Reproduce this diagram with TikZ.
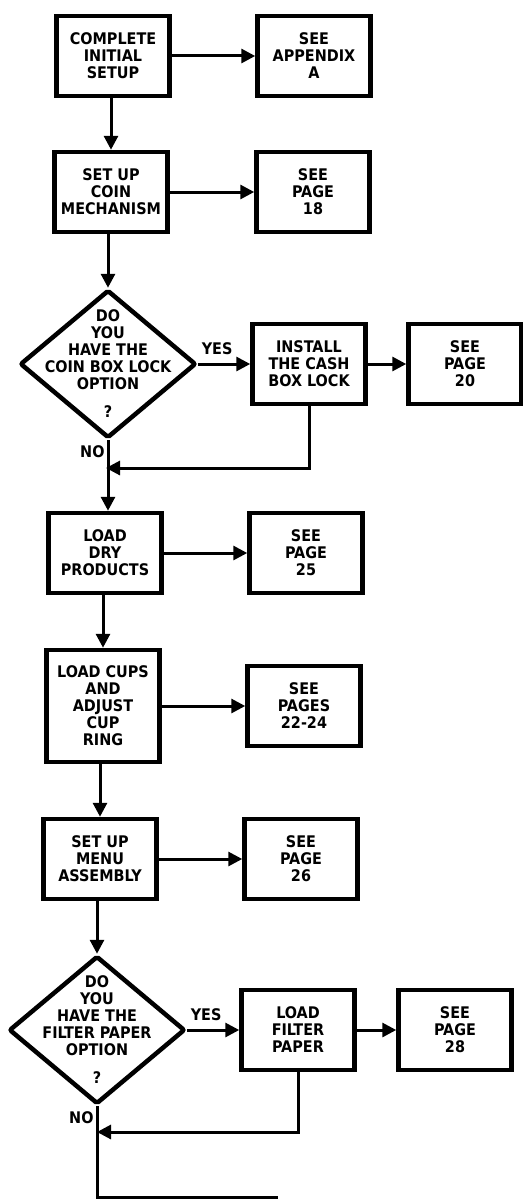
\documentclass[tikz,border=0pt]{standalone}
\usepackage{fontspec}
\setmainfont{DejaVu Sans Condensed}
\usetikzlibrary{shapes.geometric,arrows.meta}

\tikzset{
  every node/.style={font=\fontsize{16}{17}\selectfont\bfseries},
  stepbox/.style={draw, line width=4.5pt, minimum width=113pt, minimum height=80pt,
    align=center, inner sep=2pt},
  decision/.style={draw, diamond, line width=4.5pt, minimum width=176pt,
    minimum height=148pt, inner sep=0pt, rounded corners=2pt},
  qtext/.style={align=center, inner sep=0pt},
  flow/.style={line width=3pt, -{Triangle[length=14pt,width=14pt]}},
  tieline/.style={line width=3pt},
  lbl/.style={inner sep=2pt}
}

\begin{document}
\begin{tikzpicture}[x=1pt,y=-1pt]
\useasboundingbox (0,0) rectangle (522,1199);
% main column and references
\node[stepbox] (init) at (113,56) {COMPLETE\\INITIAL\\SETUP};
\node[stepbox] (appA) at (314,56) {SEE\\APPENDIX\\A};
\node[stepbox] (coin) at (111,192) {SET UP\\COIN\\MECHANISM};
\node[stepbox] (p18) at (313,192) {SEE\\PAGE\\18};
\node[decision] (lockq) at (108,364) {};
\node[qtext] (lockqt) at (lockq) {DO\\YOU\\HAVE THE\\COIN BOX LOCK\\OPTION\\[11pt]?};
\node[stepbox] (lock) at (309,364) {INSTALL\\THE CASH\\BOX LOCK};
\node[stepbox] (p20) at (465,364) {SEE\\PAGE\\20};
\coordinate (merge1) at (106,468);
\node[stepbox] (dry) at (105,553) {LOAD\\DRY\\PRODUCTS};
\node[stepbox] (p25) at (306,553) {SEE\\PAGE\\25};
\node[stepbox, minimum height=112pt] (cups) at (103,706) {LOAD CUPS\\AND\\ADJUST\\CUP\\RING};
\node[stepbox] (p2224) at (304,706) {SEE\\PAGES\\22-24};
\node[stepbox] (menu) at (100,859) {SET UP\\MENU\\ASSEMBLY};
\node[stepbox] (p26) at (301,859) {SEE\\PAGE\\26};
\node[decision] (filterq) at (97,1030) {};
\node[qtext] (filterqt) at (filterq) {DO\\YOU\\HAVE THE\\FILTER PAPER\\OPTION\\[11pt]?};
\node[stepbox] (filter) at (298,1030) {LOAD\\FILTER\\PAPER};
\node[stepbox] (p28) at (455,1030) {SEE\\PAGE\\28};
\coordinate (merge2) at (97,1132);
\coordinate (bottom) at (97,1197);
\coordinate (exit) at (278,1197);

% connectors
\draw[flow] (init) -- (appA);
\draw[flow] (init.south -| coin.north) -- (coin.north);
\draw[flow] (coin) -- (p18);
\draw[flow] (coin.south -| lockq.north) -- (lockq.north);
\draw[flow] (lockq) -- (lock) node[lbl, pos=0, anchor=south west, yshift=6pt] {YES};
\draw[flow] (lock) -- (p20);
\draw[flow] (lockq.south) -- (lockq.south |- dry.north) node[lbl, pos=0, anchor=north east, yshift=-2pt] {NO};
\draw[flow] (lock.south) |- (merge1);
\draw[flow] (dry) -- (p25);
\draw[flow] (dry.south -| cups.north) -- (cups.north);
\draw[flow] (cups) -- (p2224);
\draw[flow] (cups.south -| menu.north) -- (menu.north);
\draw[flow] (menu) -- (p26);
\draw[flow] (menu.south -| filterq.north) -- (filterq.north);
\draw[flow] (filterq) -- (filter) node[lbl, pos=0, anchor=south west, yshift=6pt] {YES};
\draw[flow] (filter) -- (p28);
\draw[flow] (filter.south) |- (merge2);
\draw[tieline] (filterq.south) node[lbl, anchor=north east, yshift=-2pt] {NO} -- (bottom) -- (exit);
\end{tikzpicture}
\end{document}
